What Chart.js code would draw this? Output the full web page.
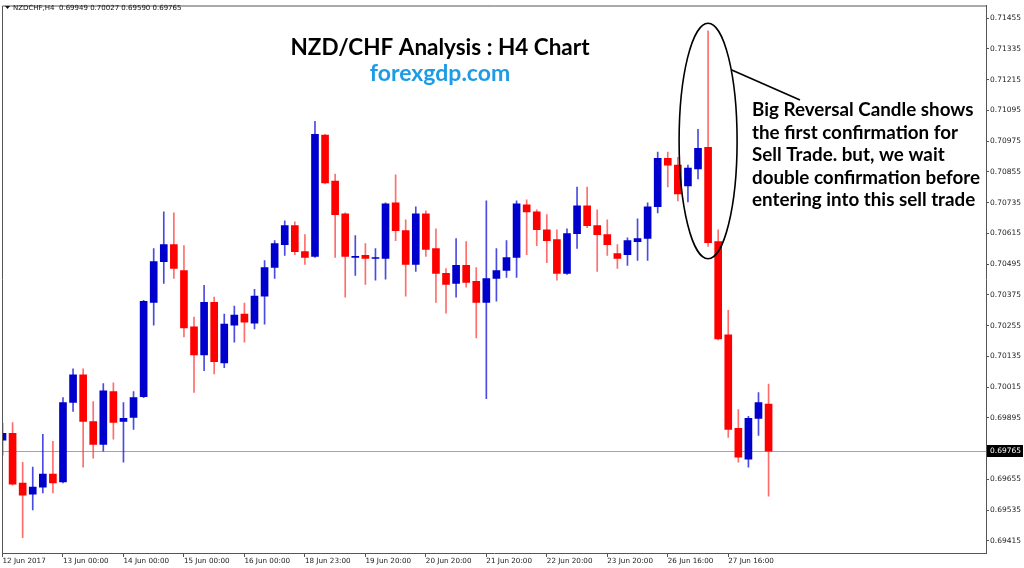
<!DOCTYPE html>
<html>
<head>
<meta charset="utf-8">
<script src="https://cdn.jsdelivr.net/npm/chart.js@4.4.0/dist/chart.umd.min.js"></script>
<style>
  html, body { margin: 0; padding: 0; background: #fff; }
</style>
</head>
<body>
<canvas id="chart" width="1024" height="568"></canvas>
<script>
// NZDCHF H4 candles, 12 Jun 2017 - 27 Jun 2017
const opens = [0.69808, 0.69835, 0.69641, 0.69598, 0.69625, 0.69676, 0.69645, 0.69955, 0.70063, 0.69881,
  0.69792, 0.69998, 0.69881, 0.69897, 0.69978, 0.70346, 0.70505, 0.70571, 0.70470, 0.70250,
  0.70141, 0.70346, 0.70110, 0.70257, 0.70300, 0.70265, 0.70370, 0.70482, 0.70571, 0.70645,
  0.70544, 0.70525, 0.70998, 0.70819, 0.70691, 0.70521, 0.70529, 0.70517, 0.70517, 0.70734,
  0.70626, 0.70494, 0.70691, 0.70556, 0.70459, 0.70420, 0.70490, 0.70428, 0.70346, 0.70439,
  0.70470, 0.70521, 0.70726, 0.70699, 0.70629, 0.70591, 0.70459, 0.70614, 0.70722, 0.70645,
  0.70610, 0.70536, 0.70532, 0.70583, 0.70595, 0.70719, 0.70908, 0.70881, 0.70800, 0.70866,
  0.70951, 0.70583, 0.70219, 0.69854, 0.69734, 0.69893, 0.69949];
const highs = [0.69874, 0.69877, 0.69722, 0.69703, 0.69831, 0.69804, 0.69974, 0.70087, 0.70087, 0.69959,
  0.70029, 0.70032, 0.69955, 0.69998, 0.70354, 0.70556, 0.70699, 0.70695, 0.70567, 0.70288,
  0.70412, 0.70366, 0.70300, 0.70331, 0.70343, 0.70397, 0.70509, 0.70587, 0.70664, 0.70660,
  0.70610, 0.71052, 0.71001, 0.70846, 0.70695, 0.70606, 0.70575, 0.70556, 0.70734, 0.70843,
  0.70668, 0.70719, 0.70703, 0.70633, 0.70478, 0.70595, 0.70583, 0.70482, 0.70742, 0.70556,
  0.70587, 0.70742, 0.70746, 0.70707, 0.70688, 0.70629, 0.70633, 0.70796, 0.70796, 0.70707,
  0.70668, 0.70571, 0.70598, 0.70672, 0.70734, 0.70932, 0.70932, 0.70912, 0.70881, 0.71021,
  0.71405, 0.70629, 0.70315, 0.69928, 0.69901, 0.69994, 0.70027];
const lows = [0.69750, 0.69633, 0.69428, 0.69536, 0.69602, 0.69602, 0.69641, 0.69920, 0.69703, 0.69738,
  0.69765, 0.69812, 0.69722, 0.69850, 0.69974, 0.70257, 0.70420, 0.70439, 0.70211, 0.69994,
  0.70079, 0.70067, 0.70091, 0.70191, 0.70191, 0.70242, 0.70261, 0.70439, 0.70529, 0.70532,
  0.70494, 0.70521, 0.70808, 0.70521, 0.70366, 0.70451, 0.70416, 0.70432, 0.70436, 0.70587,
  0.70370, 0.70467, 0.70525, 0.70346, 0.70304, 0.70366, 0.70405, 0.70207, 0.69970, 0.70350,
  0.70443, 0.70443, 0.70532, 0.70567, 0.70501, 0.70432, 0.70455, 0.70556, 0.70637, 0.70467,
  0.70529, 0.70478, 0.70490, 0.70509, 0.70509, 0.70695, 0.70796, 0.70742, 0.70738, 0.70827,
  0.70564, 0.70199, 0.69819, 0.69722, 0.69703, 0.69827, 0.69590];
const closes = [0.69835, 0.69637, 0.69594, 0.69625, 0.69676, 0.69641, 0.69955, 0.70063, 0.69881, 0.69792,
  0.70001, 0.69877, 0.69893, 0.69974, 0.70350, 0.70505, 0.70571, 0.70478, 0.70246, 0.70141,
  0.70346, 0.70114, 0.70261, 0.70296, 0.70269, 0.70370, 0.70482, 0.70575, 0.70645, 0.70544,
  0.70521, 0.71001, 0.70812, 0.70688, 0.70525, 0.70525, 0.70517, 0.70521, 0.70730, 0.70626,
  0.70494, 0.70691, 0.70552, 0.70459, 0.70416, 0.70490, 0.70424, 0.70346, 0.70439, 0.70470,
  0.70521, 0.70730, 0.70699, 0.70629, 0.70587, 0.70459, 0.70614, 0.70722, 0.70645, 0.70610,
  0.70571, 0.70517, 0.70587, 0.70595, 0.70719, 0.70908, 0.70881, 0.70769, 0.70870, 0.70947,
  0.70579, 0.70203, 0.69850, 0.69742, 0.69893, 0.69955, 0.69765];

// one time label every 6 candles (one trading day on H4)
const timeLabels = ['12 Jun 2017', '13 Jun 00:00', '14 Jun 00:00', '15 Jun 00:00', '16 Jun 00:00',
  '18 Jun 23:00', '19 Jun 20:00', '20 Jun 20:00', '21 Jun 20:00', '22 Jun 20:00',
  '23 Jun 20:00', '26 Jun 16:00', '27 Jun 16:00'];
const priceTicks = [0.71455, 0.71335, 0.71215, 0.71095, 0.70975, 0.70855, 0.70735, 0.70615,
  0.70495, 0.70375, 0.70255, 0.70135, 0.70015, 0.69895, 0.69655, 0.69535, 0.69415];
const lastPrice = 0.69765;

const upColor = '#0000cc';
const downColor = '#ff0000';
const idx = closes.map((c, i) => i);
const bodyColors = idx.map(i => closes[i] >= opens[i] ? upColor : downColor);
const wickColors = idx.map(i => closes[i] >= opens[i] ? 'rgba(30,30,220,0.8)' : 'rgba(255,60,60,0.75)');

const overlay = {
  id: 'overlay',
  beforeDatasetsDraw(chart) {
    const { ctx, chartArea: a, scales: { y } } = chart;
    const py = Math.round(y.getPixelForValue(lastPrice)) + 0.5;
    ctx.save();
    ctx.strokeStyle = '#9aa6ba';
    ctx.lineWidth = 1;
    ctx.beginPath();
    ctx.moveTo(a.left, py);
    ctx.lineTo(a.right, py);
    ctx.stroke();
    ctx.restore();
  },
  afterDraw(chart) {
    const { ctx, chartArea: a, scales: { x, y } } = chart;
    ctx.save();
    // frame
    ctx.strokeStyle = '#555';
    ctx.lineWidth = 1;
    ctx.beginPath();
    ctx.moveTo(a.left + 0.5, a.bottom);
    ctx.lineTo(a.left + 0.5, a.top + 0.5);
    ctx.lineTo(a.right, a.top + 0.5);
    ctx.stroke();

    // last price box
    const py = Math.round(y.getPixelForValue(lastPrice));
    ctx.fillStyle = '#000';
    ctx.fillRect(a.right + 1, py - 6, 36, 12);
    ctx.fillStyle = '#fff';
    ctx.font = '7.5px "DejaVu Sans"';
    ctx.textBaseline = 'middle';
    ctx.textAlign = 'left';
    ctx.fillText(lastPrice.toFixed(5), a.right + 4, py + 0.5);

    // header line
    ctx.fillStyle = '#111';
    ctx.beginPath();
    ctx.moveTo(5, 6); ctx.lineTo(10, 6); ctx.lineTo(7.5, 9); ctx.closePath();
    ctx.fill();
    ctx.font = '7px "DejaVu Sans"';
    ctx.fillText('NZDCHF,H4  ' + [opens[76], highs[76], lows[76], closes[76]].map(v => v.toFixed(5)).join(' '), 13, 8);

    // title
    ctx.textAlign = 'center';
    ctx.textBaseline = 'alphabetic';
    ctx.fillStyle = '#000';
    ctx.font = 'bold 22.5px Lato';
    ctx.fillText('NZD/CHF Analysis : H4 Chart', 440, 55);
    ctx.fillStyle = '#1e9be6';
    ctx.font = 'bold 23px Lato';
    ctx.fillText('forexgdp.com', 440, 81);

    // ellipse around the reversal candle
    const cx = x.getPixelForValue(70);
    const top = y.getPixelForValue(0.71435);
    const bot = y.getPixelForValue(0.70516);
    const cy = (top + bot) / 2, ry = (bot - top) / 2, rx = 29;
    ctx.strokeStyle = '#000';
    ctx.lineWidth = 1.6;
    ctx.beginPath();
    ctx.ellipse(cx, cy, rx, ry, 0, 0, Math.PI * 2);
    ctx.stroke();
    const th = -0.65;
    ctx.beginPath();
    ctx.moveTo(cx + rx * Math.cos(th), cy + ry * Math.sin(th));
    ctx.lineTo(800, 100);
    ctx.stroke();

    // note
    const note = ['Big Reversal Candle shows', 'the first confirmation for', 'Sell Trade. but, we wait',
      'double confirmation before', 'entering into this sell trade'];
    ctx.textAlign = 'left';
    ctx.fillStyle = '#000';
    ctx.font = 'bold 18.8px Lato';
    note.forEach((t, k) => ctx.fillText(t, 752, 116 + k * 22.5));
    ctx.restore();
  }
};

new Chart(document.getElementById('chart'), {
  type: 'bar',
  data: {
    datasets: [{
      label: 'wick',
      data: idx.map(i => ({ x: i, y: [lows[i], highs[i]] })),
      backgroundColor: wickColors,
      barThickness: 1,
      grouped: false,
      borderWidth: 0,
      order: 2
    }, {
      label: 'body',
      data: idx.map(i => ({ x: i, y: [opens[i], closes[i]] })),
      backgroundColor: bodyColors,
      barThickness: 7,
      minBarLength: 1,
      grouped: false,
      borderWidth: 0,
      order: 1
    }]
  },
  options: {
    responsive: false,
    animation: false,
    layout: { padding: { left: 2, top: 2, right: 0, bottom: 0 } },
    plugins: { legend: { display: false }, tooltip: { enabled: false } },
    scales: {
      x: {
        type: 'linear',
        offset: false,
        min: -0.05,
        max: 97.57,
        grid: { offset: false, drawOnChartArea: false, tickLength: 4, color: '#555' },
        border: { color: '#555' },
        afterBuildTicks: s => { s.ticks = timeLabels.map((t, k) => ({ value: k * 6 })); },
        afterFit: s => { s.height = 15; },
        ticks: {
          autoSkip: false,
          maxRotation: 0,
          align: 'start',
          padding: 0,
          color: '#222',
          font: { family: 'DejaVu Sans', size: 7.2 },
          callback: v => timeLabels[Math.round(v / 6)]
        }
      },
      y: {
        position: 'right',
        min: 0.69368,
        max: 0.71504,
        grid: { drawOnChartArea: false, tickLength: 3, color: '#555' },
        border: { color: '#555' },
        afterBuildTicks: s => { s.ticks = priceTicks.map(v => ({ value: v })); },
        afterFit: s => { s.width = 38; },
        ticks: {
          padding: 1,
          color: '#222',
          font: { family: 'DejaVu Sans', size: 7.5 },
          callback: v => v.toFixed(5)
        }
      }
    }
  },
  plugins: [overlay]
});
</script>
</body>
</html>
